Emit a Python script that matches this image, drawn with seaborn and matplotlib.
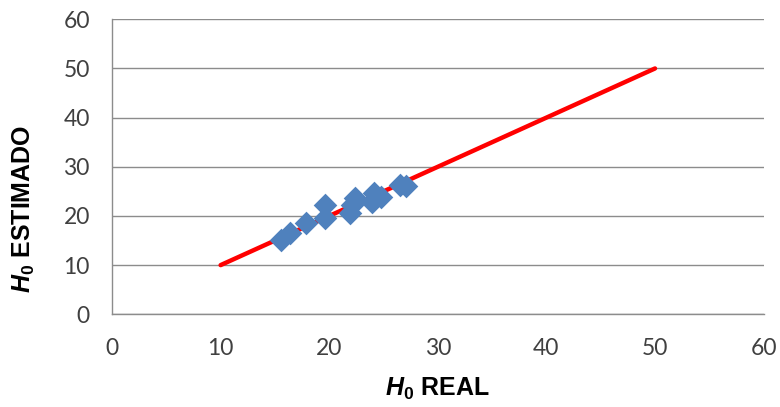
import matplotlib
matplotlib.use("Agg")
import matplotlib.pyplot as plt
import seaborn as sns
import pandas as pd

# Observed vs. estimated H0
h0_real = [15.6, 16.4, 17.9, 19.6, 19.6, 21.9, 22.1, 22.4, 23.9, 24.1, 24.8, 26.5, 27.1]
h0_estimado = [15.1, 16.5, 18.5, 22.2, 19.5, 20.6, 22.2, 23.6, 22.9, 24.6, 23.9, 26.3, 26.0]

# 1:1 reference line
line_x = [10, 50]
line_y = [10, 50]

ticks = [0, 10, 20, 30, 40, 50, 60]

sns.set_theme(style="white")
plt.rcParams["font.family"] = ["Lato", "DejaVu Sans"]
plt.rcParams["mathtext.fontset"] = "custom"
plt.rcParams["mathtext.it"] = "Liberation Sans:italic:bold"
plt.rcParams["mathtext.rm"] = "Liberation Sans:bold"

fig = plt.figure(figsize=(7.8, 4.07), dpi=100)
ax = fig.add_axes([0.1436, 0.2278, 0.8354, 0.7248])

pts = pd.DataFrame({"real": h0_real, "est": h0_estimado})
ref = pd.DataFrame({"x": line_x, "y": line_y})

sns.lineplot(data=ref, x="x", y="y", ax=ax, color="#FF0000", linewidth=3.2, zorder=2)
sns.scatterplot(data=pts, x="real", y="est", ax=ax, marker="D", s=145,
                color="#4F81BD", edgecolor="#4F81BD", linewidth=0, zorder=3)

ax.set_xlim(0, 60)
ax.set_ylim(0, 60)
ax.set_xticks(ticks)
ax.set_yticks(ticks)
ax.set_xticklabels([str(t) for t in ticks])
ax.set_yticklabels([str(t) for t in ticks])
ax.tick_params(axis="both", length=0, labelsize=16.5, colors="#404040")
ax.tick_params(axis="y", pad=16)
ax.tick_params(axis="x", pad=17)

ax.grid(axis="y", color="#8C8C8C", linewidth=1.0)
ax.grid(axis="x", visible=False)
ax.set_axisbelow(True)
for side in ["top", "right"]:
    ax.spines[side].set_visible(False)
for side in ["left", "bottom"]:
    ax.spines[side].set_color("#8C8C8C")
    ax.spines[side].set_linewidth(1.0)

label_kw = dict(fontsize=18, fontweight="bold", color="black", family="Liberation Sans")
ax.set_xlabel(r"$\mathit{H}_{\mathit{0}}$ REAL", **label_kw)
ax.set_ylabel(r"$\mathit{H}_{\mathit{0}}$ ESTIMADO", **label_kw)
ax.xaxis.set_label_coords(0.5, -0.21)
ax.yaxis.set_label_coords(-0.115, 0.357)

fig.savefig("out.png", dpi=100)
